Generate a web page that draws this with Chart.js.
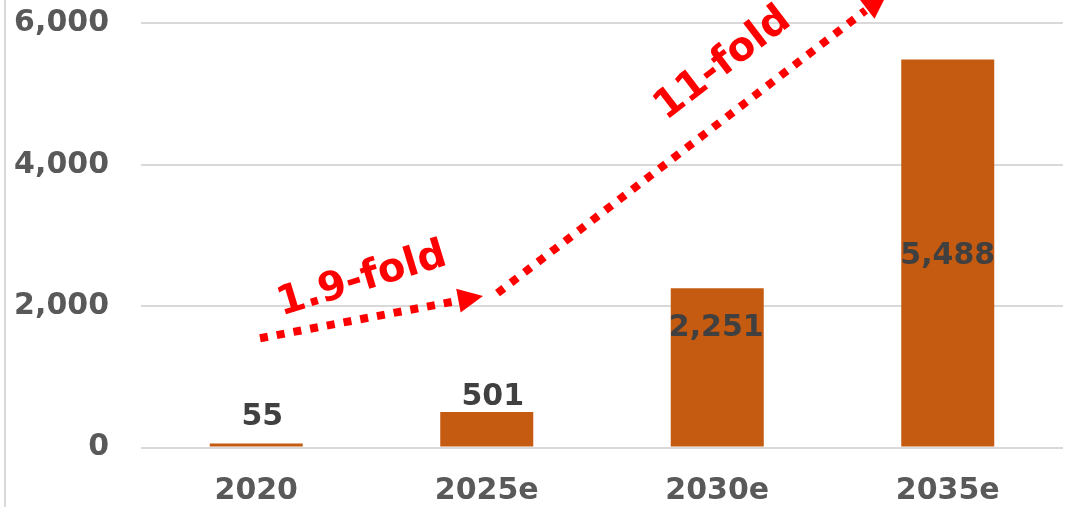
<!DOCTYPE html>
<html>
<head>
<meta charset="utf-8">
<script src="https://cdn.jsdelivr.net/npm/chart.js@4/dist/chart.umd.min.js"></script>
<style>
  html, body { margin: 0; padding: 0; background: #ffffff; }
  #wrap { width: 1067px; height: 507px; position: relative; }
</style>
</head>
<body>
<div id="wrap"><canvas id="c" width="1067" height="507"></canvas></div>
<script>
// ---- data ----
const categories = ['2020', '2025e', '2030e', '2035e'];
const marketSize = [55, 501, 2251, 5488];
const yTickValues = [0, 2000, 4000, 6000];
const growthLabels = ['1.9-fold', '11-fold'];

// ---- styling / layout config (not data) ----
const FONT = '"DejaVu Sans", Verdana, sans-serif';
const BAR_COLOR = '#C55A11';
const ARROW_COLOR = '#FF0000';
// data-label placement per bar: anchor 'end' (bar top) or 'center', pixel offsets
const labelPlacement = [
  { anchor: 'end', dx: 6, dy: -26.5 },
  { anchor: 'end', dx: 6, dy: -14.5 },
  { anchor: 'end', dx: -1, dy: 39.5 },
  { anchor: 'center', dx: 0, dy: 3.5 }
];
// arrows expressed in scale units (category index, value)
const arrowSpecs = [
  { from: [0.0163, 1545], to: [0.9837, 2143], text: growthLabels[0], textAt: [0.4588, 2369], angle: -17 },
  { from: [1.0466, 2184], to: [2.7364, 6415], text: growthLabels[1], textAt: [2.025, 5425], angle: -37.5 }
];

const overlayPlugin = {
  id: 'overlay',
  beforeDraw(chart) {
    const ctx = chart.ctx;
    ctx.save();
    ctx.strokeStyle = '#d9d9d9';
    ctx.lineWidth = 2;
    ctx.beginPath();
    ctx.moveTo(5, 0);
    ctx.lineTo(5, chart.height);
    ctx.stroke();
    ctx.restore();
  },
  afterDatasetsDraw(chart) {
    const ctx = chart.ctx;
    const xs = chart.scales.x, ys = chart.scales.y;
    const meta = chart.getDatasetMeta(0);
    ctx.save();
    // data labels
    ctx.font = 'bold 30px ' + FONT;
    ctx.fillStyle = '#404040';
    ctx.textAlign = 'center';
    ctx.textBaseline = 'middle';
    meta.data.forEach((bar, i) => {
      const p = labelPlacement[i];
      const v = chart.data.datasets[0].data[i];
      const yRef = p.anchor === 'center' ? (bar.y + bar.base) / 2 : bar.y;
      ctx.fillText(v.toLocaleString('en-US'), bar.x + p.dx, yRef + p.dy);
    });
    // arrows
    const toPx = (pt) => {
      const x0 = xs.getPixelForValue(0), x1 = xs.getPixelForValue(1);
      return [x0 + pt[0] * (x1 - x0), ys.getPixelForValue(pt[1])];
    };
    arrowSpecs.forEach(a => {
      const s = toPx(a.from), t = toPx(a.to);
      const dx = t[0] - s[0], dy = t[1] - s[1];
      const len = Math.hypot(dx, dy);
      const ux = dx / len, uy = dy / len;
      const headLen = 25, headHalf = 12;
      const bx = t[0] - ux * headLen, by = t[1] - uy * headLen;
      ctx.strokeStyle = ARROW_COLOR;
      ctx.lineWidth = 8;
      ctx.lineCap = 'butt';
      ctx.setLineDash([8, 9]);
      ctx.beginPath();
      ctx.moveTo(s[0], s[1]);
      ctx.lineTo(bx - ux * 2, by - uy * 2);
      ctx.stroke();
      ctx.setLineDash([]);
      ctx.fillStyle = ARROW_COLOR;
      ctx.beginPath();
      ctx.moveTo(t[0], t[1]);
      ctx.lineTo(bx - uy * headHalf, by + ux * headHalf);
      ctx.lineTo(bx + uy * headHalf, by - ux * headHalf);
      ctx.closePath();
      ctx.fill();
      // text
      const tp = toPx(a.textAt);
      ctx.save();
      ctx.translate(tp[0], tp[1]);
      ctx.rotate(a.angle * Math.PI / 180);
      ctx.font = 'bold 40px ' + FONT;
      ctx.fillStyle = ARROW_COLOR;
      ctx.textAlign = 'center';
      ctx.textBaseline = 'middle';
      ctx.fillText(a.text, 0, 0);
      ctx.restore();
    });
    ctx.restore();
  }
};

function zeroPad(scale) {
  scale.paddingTop = 0;
  scale.paddingBottom = 0;
  scale.paddingLeft = 0;
  scale.paddingRight = 0;
}

new Chart(document.getElementById('c'), {
  type: 'bar',
  data: {
    labels: categories,
    datasets: [{
      data: marketSize,
      backgroundColor: BAR_COLOR,
      borderWidth: 0,
      categoryPercentage: 1.0,
      barPercentage: 0.4035
    }]
  },
  options: {
    responsive: false,
    animation: false,
    events: [],
    layout: { padding: { left: 0, right: 4, top: 0, bottom: 0 } },
    plugins: { legend: { display: false }, tooltip: { enabled: false }, title: { display: false } },
    scales: {
      x: {
        grid: { display: false, drawTicks: false },
        border: { display: false },
        ticks: { color: '#595959', font: { family: FONT, size: 30, weight: 'bold' }, padding: 26, maxRotation: 0 },
        afterFit(scale) { scale.height = 59.5; zeroPad(scale); }
      },
      y: {
        min: 0,
        max: 6330,
        grid: { color: '#d9d9d9', lineWidth: 2, drawTicks: false },
        border: { display: false },
        ticks: {
          color: '#595959',
          font: { family: FONT, size: 30, weight: 'bold' },
          padding: 32,
          callback: (v) => Number(v).toLocaleString('en-US')
        },
        afterBuildTicks(scale) { scale.ticks = yTickValues.map(v => ({ value: v })); },
        afterFit(scale) { scale.width = 141; zeroPad(scale); }
      }
    }
  },
  plugins: [overlayPlugin]
});
</script>
</body>
</html>
